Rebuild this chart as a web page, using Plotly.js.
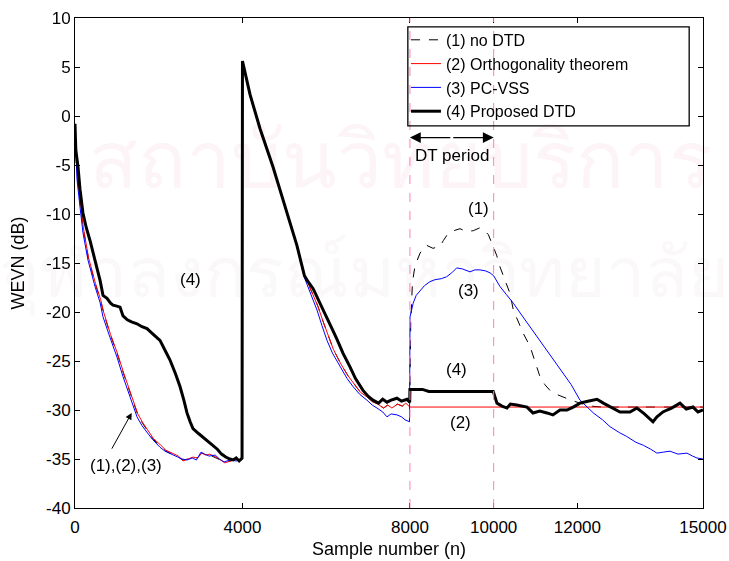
<!DOCTYPE html>
<html>
<head>
<meta charset="utf-8">
<script src="https://cdn.plot.ly/plotly-3.0.1.min.js"></script>
<style>html,body{margin:0;padding:0;background:#fff;}#chart{width:729px;height:561px;}</style>
</head>
<body>
<div id="chart"></div>
<script>
// ---- Data ----
const xTicks = [0, 4000, 8000, 10000, 12000, 15000];
const yTicks = [-40, -35, -30, -25, -20, -15, -10, -5, 0, 5, 10];
const dtBounds = [8000, 10000];

const seriesNames = ['(1) no DTD', '(2) Orthogonality theorem', '(3) PC-VSS', '(4) Proposed DTD'];
const watermarkLines = ['สถาบันวิทยบริการ', 'จุฬาลงกรณ์มหาวิทยาลัย'];

// (1) no DTD
const n1 = [0, 20, 60, 130, 200, 320, 490, 610, 690, 850, 1020, 1160, 1330, 1500, 1620, 1740, 1870, 2050, 2170, 2320, 2470, 2580, 2700, 2820, 2920, 3030, 3120, 3220, 3370, 3470, 3580, 3720, 3860, 3990,
  4000, 4180, 4420, 4730, 5064, 5300, 5480, 5560, 5680, 5800, 5920, 6040, 6170, 6350, 6520, 6660, 6820, 6990, 7120, 7230, 7370, 7470, 7570, 7700, 7820, 7900, 7995,
  8020, 8060, 8120, 8241, 8330, 8400, 8550, 8718, 8800, 8909, 9050, 9196, 9350, 9515, 9674, 9780, 9873, 9985, 10070, 10151, 10270, 10390, 10470, 10600, 10709, 10868, 11000, 11106, 11220, 11345, 11500, 11663, 11850, 12062, 12300, 12600, 13500, 14500, 15000];
const v1 = [-0.9, -4.1, -6.4, -9.0, -11.5, -14.5, -17.2, -18.8, -20.2, -22.4, -24.4, -26.3, -28.5, -30.5, -31.4, -32.2, -33.0, -33.7, -34.2, -34.5, -34.8, -35.1, -35.0, -34.8, -34.9, -34.4, -34.6, -34.6, -34.9, -35.1, -35.3, -35.2, -35.0, -35.1,
  5.6, 2.1, -1.4, -5.2, -9.9, -13.2, -16.4, -17.0, -18.2, -19.4, -20.9, -22.4, -23.8, -25.3, -26.5, -27.3, -28.2, -28.7, -29.2, -29.4, -29.8, -29.5, -29.8, -29.4, -29.6, -29.3, -29.5,
  -21.0, -17.0, -15.3, -14.0, -13.4, -13.2, -13.5, -13.3, -12.7, -12.0, -11.7, -11.5, -11.8, -11.7, -11.4, -11.7, -12.1, -13.3, -14.2, -15.4, -16.8, -18.1, -19.8, -21.2, -22.2, -23.5, -25.2, -26.6, -27.4, -28.0, -28.4, -28.7, -29.0, -29.3, -29.6, -29.7, -29.7, -29.7, -29.7];

// (2) Orthogonality theorem
const n2 = [0, 20, 60, 130, 200, 320, 490, 610, 690, 850, 1020, 1160, 1330, 1500, 1620, 1740, 1870, 2050, 2170, 2320, 2470, 2580, 2700, 2820, 2920, 3030, 3120, 3220, 3370, 3470, 3580, 3720, 3860, 3990,
  4000, 4180, 4420, 4730, 5064, 5300, 5480, 5560, 5680, 5800, 5920, 6040, 6170, 6350, 6520, 6660, 6820, 6990, 7120, 7230, 7370, 7470, 7570, 7700, 7820, 7900, 7990, 8000, 15000];
const v2 = [-0.8, -4.0, -6.3, -8.9, -11.4, -14.4, -17.1, -18.7, -20.1, -22.3, -24.3, -26.2, -28.4, -30.4, -31.3, -32.1, -32.9, -33.6, -34.1, -34.4, -34.7, -35.2, -35.0, -34.8, -34.9, -34.4, -34.6, -34.5, -34.8, -35.1, -35.4, -35.2, -35.0, -35.1,
  5.6, 2.1, -1.4, -5.2, -9.9, -13.2, -16.4, -17.0, -18.2, -19.4, -20.9, -22.4, -23.8, -25.3, -26.5, -27.3, -28.2, -28.7, -29.2, -29.4, -29.8, -29.5, -29.8, -29.4, -29.6, -29.3, -29.7, -29.7, -29.7];

// (3) PC-VSS
const n3 = [0, 20, 48, 120, 190, 310, 478, 597, 669, 836, 1003, 1147, 1314, 1481, 1600, 1720, 1850, 2030, 2150, 2300, 2450, 2560, 2675, 2800, 2900, 3010, 3100, 3200, 3350, 3450, 3560, 3700, 3850, 3990,
  4000, 4180, 4420, 4730, 5064, 5300, 5480, 5541, 5650, 5780, 5900, 6019, 6150, 6330, 6500, 6640, 6800, 6974, 7100, 7213, 7350, 7452, 7550, 7691, 7800, 7882, 7990,
  8002, 8077, 8150, 8241, 8350, 8479, 8600, 8750, 8877, 9000, 9116, 9250, 9435, 9550, 9674, 9800, 9913, 10000, 10151, 10300, 10470, 10650, 10868, 11050, 11265, 11450, 11663, 11850, 12062, 12200, 12381, 12600, 12779, 13000, 13177, 13400, 13574, 13750, 13900, 14050, 14212, 14400, 14617, 14750, 14857, 15000];
const v3 = [-1.0, -4.2, -6.5, -9.3, -11.9, -14.7, -17.4, -19.0, -20.5, -22.6, -24.6, -26.6, -28.7, -30.7, -31.6, -32.3, -33.0, -33.8, -34.2, -34.5, -34.8, -35.0, -35.1, -34.9, -35.1, -34.3, -34.5, -34.7, -34.6, -35.0, -35.3, -35.1, -35.2, -35.0,
  5.6, 2.0, -1.4, -5.3, -10.0, -13.3, -16.5, -17.2, -18.4, -19.8, -21.4, -22.9, -24.2, -25.6, -26.8, -27.6, -28.4, -29.0, -29.5, -29.8, -30.2, -30.7, -30.4, -30.5, -30.7, -31.0, -31.2,
  -20.5, -19.1, -18.3, -17.8, -17.3, -16.9, -16.7, -16.6, -16.4, -16.0, -15.5, -15.6, -15.9, -15.7, -15.7, -15.8, -16.0, -16.3, -17.4, -18.2, -19.1, -20.2, -21.5, -22.6, -23.9, -25.0, -26.2, -27.4, -29.0, -29.6, -30.3, -31.0, -31.7, -32.3, -32.7, -33.3, -33.6, -34.0, -34.4, -34.3, -34.2, -34.5, -34.4, -34.7, -34.9, -35.0];

// (4) Proposed DTD
const n4 = [0, 20, 72, 120, 190, 270, 358, 440, 525, 600, 669, 764, 850, 908, 1000, 1075, 1147, 1250, 1350, 1481, 1600, 1720, 1850, 2030, 2150, 2269, 2400, 2508, 2600, 2675, 2750, 2818, 2950, 3057, 3180, 3296, 3400, 3500, 3600, 3700, 3780, 3850, 3920, 3990,
  4000, 4180, 4420, 4730, 5064, 5300, 5480, 5550, 5685, 5800, 5924, 6019, 6150, 6258, 6400, 6568, 6700, 6879, 7000, 7117, 7250, 7350, 7452, 7550, 7691, 7800, 7930, 7995,
  8000, 8300, 8450, 9000, 9500, 9990, 10079, 10200, 10318, 10400, 10550, 10796, 10939, 11100, 11273, 11416, 11584, 11751, 11900, 12062, 12250, 12381, 12468, 12620, 12850, 13018, 13256, 13423, 13600, 13805, 13900, 14044, 14140, 14250, 14450, 14600, 14761, 14880, 15000];
const v4 = [-0.8, -3.5, -5.2, -7.5, -9.9, -11.4, -12.7, -14.0, -15.4, -16.8, -18.3, -18.6, -19.1, -19.3, -19.4, -19.5, -20.4, -20.8, -21.0, -21.2, -21.5, -21.7, -22.2, -22.9, -23.9, -24.9, -26.3, -27.6, -29.0, -30.3, -31.2, -31.9, -32.4, -32.8, -33.2, -33.6, -34.0, -34.5, -34.8, -35.0, -35.1, -34.9, -35.2, -34.9,
  5.6, 2.2, -1.3, -5.2, -9.9, -13.2, -16.3, -16.8, -17.6, -18.6, -19.8, -20.6, -21.8, -22.8, -24.2, -25.6, -26.8, -28.0, -28.6, -29.0, -29.3, -28.9, -29.2, -29.0, -28.8, -29.1, -28.9, -29.2,
  -27.9, -27.9, -28.1, -28.1, -28.1, -28.1, -29.3, -29.6, -29.8, -29.4, -29.5, -29.7, -30.3, -30.1, -30.3, -30.5, -30.0, -30.0, -29.7, -29.3, -29.1, -29.0, -28.9, -29.3, -29.8, -30.2, -30.2, -29.8, -30.4, -31.2, -30.7, -30.2, -30.0, -29.8, -29.3, -29.9, -29.7, -30.2, -30.0];

// ---- Chart ----
const FONT = 'Liberation Sans, Arial, sans-serif';
const THAI = 'Noto Sans, DejaVu Sans, sans-serif';

// faint background watermark, drawn beneath every curve
const watermark = {
  x: [7763, 6903], y: [-5.3, -16.7], mode: 'text', text: watermarkLines, textposition: 'middle center',
  textfont: {family: THAI, size: [80, 70], color: ['#fbedf2', '#f9f3f6']}, opacity: 0.6,
  showlegend: false, hoverinfo: 'skip', cliponaxis: false
};

const traces = [
  watermark,
  {x: n1, y: v1, name: seriesNames[0], mode: 'lines', line: {color: '#000000', width: 1, dash: 'dash'}},
  {x: n2, y: v2, name: seriesNames[1], mode: 'lines', line: {color: '#ff0000', width: 1}},
  {x: n3, y: v3, name: seriesNames[2], mode: 'lines', line: {color: '#0000ff', width: 1}},
  {x: n4, y: v4, name: seriesNames[3], mode: 'lines', line: {color: '#000000', width: 3}}
];

const dtMid = (dtBounds[0] + dtBounds[1]) / 2;
const aFont = {family: FONT, size: 17, color: '#000'};
const annotations = [
  {x: 2747, y: -16.7, text: '(4)', showarrow: false, font: aFont},
  {x: 1218, y: -35.7, text: '(1),(2),(3)', showarrow: false, font: aFont},
  {x: 1354, y: -30.3, ax: 860, ay: -34.1, axref: 'x', ayref: 'y', text: '', showarrow: true, arrowhead: 2, arrowsize: 1.3, arrowwidth: 1, arrowcolor: '#000'},
  {x: 9626, y: -9.4, text: '(1)', showarrow: false, font: aFont},
  {x: 9387, y: -17.8, text: '(3)', showarrow: false, font: aFont},
  {x: 9124, y: -25.9, text: '(4)', showarrow: false, font: aFont},
  {x: 9196, y: -31.3, text: '(2)', showarrow: false, font: aFont},
  {x: dtMid, y: -4.0, text: 'DT period', showarrow: false, font: aFont},
  {x: dtBounds[0], y: -2.2, ax: dtMid, ay: -2.2, axref: 'x', ayref: 'y', text: '', showarrow: true, arrowhead: 2, arrowsize: 1.8, arrowwidth: 1.2, arrowcolor: '#000'},
  {x: dtBounds[1], y: -2.2, ax: dtMid, ay: -2.2, axref: 'x', ayref: 'y', text: '', showarrow: true, arrowhead: 2, arrowsize: 1.8, arrowwidth: 1.2, arrowcolor: '#000'}
];

const shapes = dtBounds.map(b => ({type: 'line', xref: 'x', yref: 'paper', x0: b, x1: b, y0: 0, y1: 1,
  line: {color: '#ff7fbf', width: 1, dash: 'dash'}}));
// legend frame
shapes.push({type: 'rect', xref: 'paper', yref: 'paper', x0: 0.530, x1: 0.978, y0: 0.780, y1: 0.982,
  line: {color: '#000', width: 1.3}, fillcolor: 'rgba(0,0,0,0)', layer: 'above'});

const axisCommon = {showgrid: false, zeroline: false, showline: true, linecolor: '#000', linewidth: 1,
  mirror: 'ticks', ticks: 'inside', ticklen: 5, tickcolor: '#000', tickfont: {family: FONT, size: 17, color: '#000'}};

const layout = {
  width: 729, height: 561,
  margin: {l: 75, r: 26, t: 18, b: 53},
  paper_bgcolor: '#fff', plot_bgcolor: 'rgba(0,0,0,0)',
  font: {family: FONT, size: 16, color: '#000'},
  showlegend: true,
  legend: {x: 0.527, y: 0.99, xanchor: 'left', yanchor: 'top', bgcolor: 'rgba(0,0,0,0)',
    borderwidth: 0, font: {family: FONT, size: 16, color: '#000'}, tracegroupgap: 0},
  xaxis: Object.assign({}, axisCommon, {range: [0, 15000], tickvals: xTicks, ticktext: xTicks.map(String), ticklabelstandoff: 4,
    title: {text: 'Sample number (n)', font: {family: FONT, size: 18, color: '#000'}, standoff: 5}}),
  yaxis: Object.assign({}, axisCommon, {range: [-40, 10], tickvals: yTicks, ticktext: yTicks.map(String),
    title: {text: 'WEVN (dB)', font: {family: FONT, size: 18, color: '#000'}, standoff: 16}}),
  annotations: annotations,
  shapes: shapes
};

Plotly.newPlot('chart', traces, layout, {displayModeBar: false, staticPlot: true});
</script>
</body>
</html>
